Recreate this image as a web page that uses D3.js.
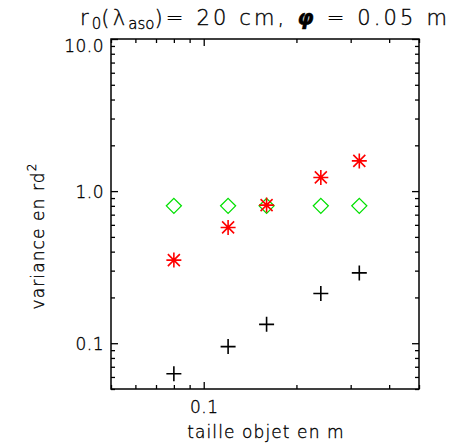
<!DOCTYPE html>
<html>
<head>
<meta charset="utf-8">
<script src="https://cdn.jsdelivr.net/npm/d3@7/dist/d3.min.js"></script>
<style>
  html, body { margin: 0; padding: 0; background: #fff; }
  svg { display: block; }
  text { font-family: "DejaVu Sans", sans-serif; fill: #000; font-weight: 300;
         stroke: #000; stroke-width: 0.35; }
</style>
</head>
<body>
<svg id="chart" width="449" height="445"></svg>
<script>
// ---- data ----
const sizes = [0.08, 0.12, 0.16, 0.24, 0.32];           // taille objet en m
const varianceBlack = [0.063, 0.095, 0.133, 0.212, 0.290]; // + symbols
const varianceRed = [0.352, 0.577, 0.809, 1.23, 1.58];     // * symbols
const varianceGreen = [0.80, 0.80, 0.80, 0.80, 0.80];      // diamonds
const yMajorTicks = [0.1, 1, 10];
const yMajorLabels = ["0.1", "1.0", "10.0"];
const xMajorTicks = [0.1];
const xMajorLabels = ["0.1"];
const xDomain = [0.05, 0.5];
const yDomain = [0.05, 10];

// ---- layout ----
const svg = d3.select("#chart");
const L = 111, R = 419, T = 39, B = 389;
const x = d3.scaleLog().domain(xDomain).range([L, R]);
const y = d3.scaleLog().domain(yDomain).range([B, T]);

function minorTicks(domain) {
  const out = [];
  for (let e = -3; e <= 3; e++) {
    for (let m = 2; m <= 9; m++) {
      const v = m * Math.pow(10, e);
      if (v >= domain[0] * 0.999 && v <= domain[1] * 1.001) out.push(v);
    }
  }
  return out;
}
const yMinor = minorTicks(yDomain);
const xMinor = minorTicks(xDomain);

const MAJ = 7, MIN = 4;
const axisStroke = "#000";

function styleAxis(g) {
  g.select(".domain").remove();
  g.selectAll(".tick line").attr("stroke", axisStroke).attr("stroke-width", 1.3);
}

// left axis
svg.append("g").attr("transform", `translate(${L},0)`)
  .call(d3.axisLeft(y).tickValues(yMajorTicks).tickSize(-MAJ).tickPadding(7)
    .tickFormat((d, i) => yMajorLabels[i]))
  .call(styleAxis)
  .call(g => g.selectAll("text").attr("font-size", 17).attr("dy", "0.35em")
    .attr("letter-spacing", 0.5)
    .attr("transform", d => d === 10 ? "translate(0,7)" : null));
svg.append("g").attr("transform", `translate(${L},0)`)
  .call(d3.axisLeft(y).tickValues(yMinor).tickSize(-MIN).tickFormat(""))
  .call(styleAxis);
// right axis
svg.append("g").attr("transform", `translate(${R},0)`)
  .call(d3.axisRight(y).tickValues(yMajorTicks).tickSize(-MAJ).tickFormat(""))
  .call(styleAxis);
svg.append("g").attr("transform", `translate(${R},0)`)
  .call(d3.axisRight(y).tickValues(yMinor).tickSize(-MIN).tickFormat(""))
  .call(styleAxis);
// bottom axis
svg.append("g").attr("transform", `translate(0,${B})`)
  .call(d3.axisBottom(x).tickValues(xMajorTicks).tickSize(-MAJ).tickPadding(12)
    .tickFormat((d, i) => xMajorLabels[i]))
  .call(styleAxis)
  .call(g => g.selectAll("text").attr("font-size", 17).attr("dy", "0.71em")
    .attr("letter-spacing", 0.5));
svg.append("g").attr("transform", `translate(0,${B})`)
  .call(d3.axisBottom(x).tickValues(xMinor).tickSize(-MIN).tickFormat(""))
  .call(styleAxis);
// top axis
svg.append("g").attr("transform", `translate(0,${T})`)
  .call(d3.axisTop(x).tickValues(xMajorTicks).tickSize(-MAJ).tickFormat(""))
  .call(styleAxis);
svg.append("g").attr("transform", `translate(0,${T})`)
  .call(d3.axisTop(x).tickValues(xMinor).tickSize(-MIN).tickFormat(""))
  .call(styleAxis);

// frame
svg.append("rect").attr("x", L).attr("y", T).attr("width", R - L).attr("height", B - T)
  .attr("fill", "none").attr("stroke", axisStroke).attr("stroke-width", 1.5);

// ---- marks ----
const s = 7.5;
// diamonds (green)
svg.append("g").selectAll("path").data(sizes).join("path")
  .attr("d", (d, i) => {
    const cx = x(d), cy = y(varianceGreen[i]);
    return `M${cx},${cy - s}L${cx + s},${cy}L${cx},${cy + s}L${cx - s},${cy}Z`;
  })
  .attr("fill", "none").attr("stroke", "#00e000").attr("stroke-width", 1.3);

// asterisks (red)
svg.append("g").selectAll("path").data(sizes).join("path")
  .attr("d", (d, i) => {
    const cx = x(d), cy = y(varianceRed[i]);
    const a = 6;
    return `M${cx - s},${cy}L${cx + s},${cy}M${cx},${cy - s}L${cx},${cy + s}` +
      `M${cx - a},${cy - a}L${cx + a},${cy + a}M${cx - a},${cy + a}L${cx + a},${cy - a}`;
  })
  .attr("fill", "none").attr("stroke", "#ff0000").attr("stroke-width", 1.6);

// plus (black)
svg.append("g").selectAll("path").data(sizes).join("path")
  .attr("d", (d, i) => {
    const cx = x(d), cy = y(varianceBlack[i]);
    return `M${cx - s},${cy}L${cx + s},${cy}M${cx},${cy - s}L${cx},${cy + s}`;
  })
  .attr("fill", "none").attr("stroke", "#000").attr("stroke-width", 1.6);

// ---- titles ----
const title = svg.append("text").attr("x", 80).attr("y", 25).attr("font-size", 21);
const mainParts = [];
mainParts.push(title.append("tspan").text("r"));
title.append("tspan").attr("font-size", 15).attr("dy", 4).text("0");
mainParts.push(title.append("tspan").attr("dy", -4).text("(λ"));
title.append("tspan").attr("font-size", 15).attr("dy", 4).text("aso");
mainParts.push(title.append("tspan").attr("dy", -4).text(")= 20 cm, "));
mainParts.push(title.append("tspan").attr("font-weight", "bold").attr("font-style", "italic").text("φ"));
mainParts.push(title.append("tspan").text(" = 0.05 m"));
// spread the main letters to the reference width
(function fit() {
  const target = 370;
  const natural = title.node().getComputedTextLength();
  let nChars = 0;
  mainParts.forEach(p => nChars += p.text().length);
  const ls = Math.max(0, (target - natural) / nChars);
  mainParts.forEach(p => p.attr("letter-spacing", ls));
})();

svg.append("text").attr("x", (L + R) / 2 + 1).attr("y", 438)
  .attr("text-anchor", "middle").attr("font-size", 17).attr("letter-spacing", 1.1)
  .text("taille objet en m");

const ylab = svg.append("text").attr("transform", `translate(44,${(T + B) / 2 + 22}) rotate(-90)`)
  .attr("text-anchor", "middle").attr("font-size", 17).attr("letter-spacing", 1.1);
ylab.append("tspan").text("variance en rd");
ylab.append("tspan").attr("font-size", 12).attr("dy", -8).text("2");
</script>
</body>
</html>
